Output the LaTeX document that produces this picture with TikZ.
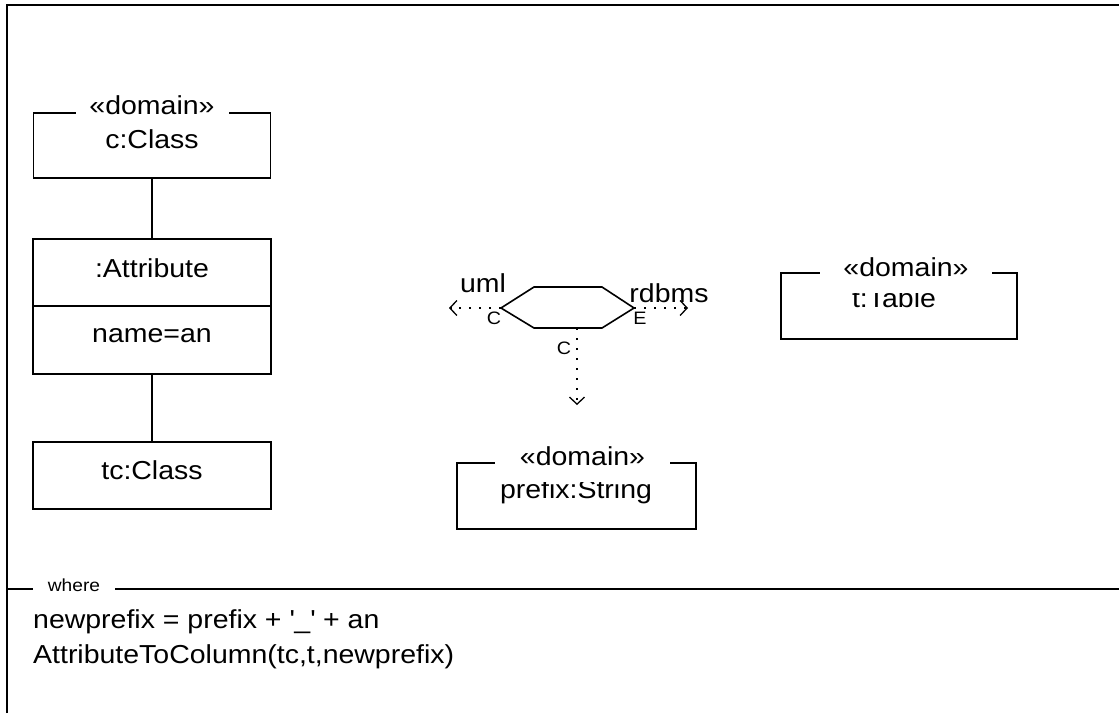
\documentclass[tikz,border=0pt]{standalone}
\usepackage{fontspec}
\setmainfont{Liberation Sans}[FakeStretch=1.095]
\usetikzlibrary{arrows.meta}
\begin{document}
\begin{tikzpicture}[x=1pt,y=-1pt,
  frameline/.style={line width=2pt},
  boxshape/.style={draw, line width=1.6pt, inner sep=0pt},
  txt/.style={anchor=base, inner sep=0pt, font=\fontsize{26}{31}\selectfont},
  smalltxt/.style={anchor=base, inner sep=0pt, font=\fontsize{18}{21}\selectfont},
  stereo/.style={anchor=base, fill=white, inner xsep=0pt, inner ysep=0pt, text depth=17pt, font=\fontsize{26}{31}\selectfont},
  assoc/.style={line width=1.6pt},
  depend/.style={line width=1.3pt, dash pattern=on 2pt off 8pt, -{Straight Barb[length=7pt,width=15pt,line width=1.3pt]}}
]
\useasboundingbox (0,0) rectangle (1119,713);
% outer frame
\coordinate (ftl) at (7,5);
\coordinate (ftr) at (1119,5);
\coordinate (fbl) at (7,713);
\draw[frameline] (fbl) -- (ftl) -- (ftr);
% where separator
\coordinate (wl) at (7,589);
\coordinate (wr) at (1119,589);
\draw[line width=1.6pt] (wl) -- (wr);
\node[anchor=base, fill=white, inner xsep=0pt, inner ysep=2pt, minimum width=82pt, font=\fontsize{17.5}{21}\selectfont] (where) at (74,591) {where};
\node[txt, anchor=base west] (expr1) at (33,628) {newprefix = prefix + \textquotesingle\_\textquotesingle{} + an};
\node[txt, anchor=base west] (expr2) at (33,663) {AttributeToColumn(tc,t,newprefix)};

% left column
\node[boxshape, minimum width=237pt, minimum height=65pt] (cclass) at (152,145.5) {};
\node[stereo, minimum width=153pt] (cster) at (152,114) {«domain»};
\node[txt] (ctext) at (152,148) {c:Class};

\node[boxshape, minimum width=238pt, minimum height=67pt] (attrname) at (152,272.5) {};
\node[txt] (attrnametext) at (152,277) {:Attribute};
\node[boxshape, minimum width=238pt, minimum height=68pt] (attrval) at (152,340) {};
\node[txt] (attrvaltext) at (152,342) {name=an};

\node[boxshape, minimum width=238pt, minimum height=67pt] (tcclass) at (152,475.5) {};
\node[txt] (tctext) at (152,479) {tc:Class};

\draw[assoc] (cclass.south) -- (attrname.north);
\draw[assoc] (attrval.south) -- (tcclass.north);

% t:Table
\node[boxshape, minimum width=236pt, minimum height=66pt] (table) at (899,306) {};
\node[txt] (tabletext) at (894,307) {t:Table};
\node[stereo, minimum width=172pt] (tster) at (906,276) {«domain»};

% prefix:String
\node[boxshape, minimum width=239pt, minimum height=66pt] (prefix) at (576.5,496) {};
\node[txt] (prefixtext) at (576,498) {prefix:String};
\node[stereo, minimum width=175pt] (pster) at (582.5,465) {«domain»};

% relation hexagon
\coordinate (hl) at (501,308);
\coordinate (htl) at (534,287);
\coordinate (htr) at (602,287);
\coordinate (hr) at (634,308);
\coordinate (hbr) at (602,328);
\coordinate (hbl) at (534,328);
\coordinate (hb) at (577,328);
\draw[line width=1.6pt, line join=miter] (hl) -- (htl) -- (htr) -- (hr) -- (hbr) -- (hbl) -- cycle;
\coordinate (umlend) at (449,308);
\coordinate (rdbmsend) at (688,308);
\coordinate (downend) at (577,405);
\draw[depend] (hl) -- (umlend);
\draw[depend] (hr) -- (rdbmsend);
\draw[depend] (hb) -- (downend);
\node[txt] (uml) at (483,292) {uml};
\node[txt] (rdbms) at (669,302) {rdbms};
\node[smalltxt] (cl) at (494,324) {C};
\node[smalltxt] (er) at (640,324) {E};
\node[smalltxt] (cb) at (564,354) {C};
\end{tikzpicture}
\end{document}
